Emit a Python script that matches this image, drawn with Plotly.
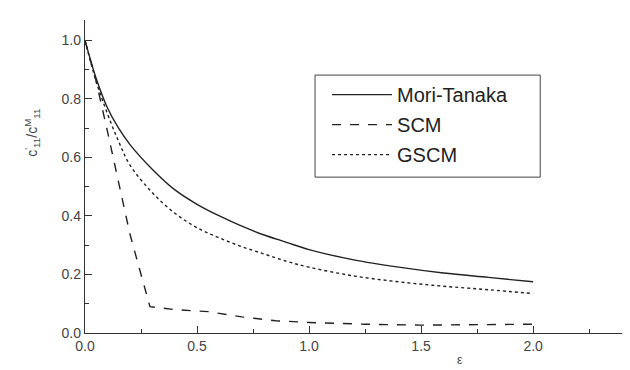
import plotly.graph_objects as go

# Data
mt_x = [0, 0.05, 0.1, 0.15, 0.2, 0.3, 0.4, 0.5, 0.6, 0.7, 0.8, 0.9, 1.0, 1.2, 1.4, 1.6, 1.8, 2.0]
mt_y = [1.0, 0.87, 0.77, 0.70, 0.645, 0.56, 0.49, 0.44, 0.40, 0.365, 0.335, 0.31, 0.285, 0.25, 0.225, 0.205, 0.19, 0.175]

scm_x = [0, 0.05, 0.1, 0.15, 0.2, 0.25, 0.29, 0.4, 0.55, 0.7, 0.85, 1.0, 1.25, 1.5, 1.75, 2.0]
scm_y = [1.0, 0.86, 0.69, 0.51, 0.34, 0.20, 0.09, 0.08, 0.073, 0.055, 0.042, 0.036, 0.03, 0.027, 0.028, 0.03]

gscm_x = [0, 0.05, 0.1, 0.15, 0.2, 0.3, 0.4, 0.5, 0.6, 0.7, 0.8, 0.9, 1.0, 1.2, 1.4, 1.6, 1.8, 2.0]
gscm_y = [1.0, 0.86, 0.75, 0.655, 0.575, 0.48, 0.41, 0.36, 0.325, 0.295, 0.27, 0.245, 0.225, 0.195, 0.175, 0.16, 0.148, 0.135]

series_names = ["Mori-Tanaka", "SCM", "GSCM"]
x_ticks = [0.0, 0.5, 1.0, 1.5, 2.0]
y_ticks = [0.0, 0.2, 0.4, 0.6, 0.8, 1.0]

FONT = "Arial, Liberation Sans, sans-serif"

fig = go.Figure()
fig.add_trace(go.Scatter(x=mt_x, y=mt_y, mode="lines", name=series_names[0], legendgroup="a",
                         line=dict(color="#222", width=1.4, dash="solid", shape="spline")))
fig.add_trace(go.Scatter(x=scm_x, y=scm_y, mode="lines", name=series_names[1], legendgroup="b",
                         line=dict(color="#222", width=1.4, dash="dash")))
fig.add_trace(go.Scatter(x=gscm_x, y=gscm_y, mode="lines", name=series_names[2], legendgroup="c",
                         line=dict(color="#222", width=1.4, dash="dot", shape="spline")))

fig.update_layout(
    width=622, height=362,
    margin=dict(l=77, r=5, t=12, b=37),
    paper_bgcolor="white", plot_bgcolor="white",
    font=dict(family=FONT, color="#333", size=14),
    showlegend=True,
    legend=dict(x=0.426, y=0.824, xanchor="left", yanchor="top",
                borderwidth=0, bgcolor="rgba(0,0,0,0)",
                font=dict(size=20, color="#222"),
                itemwidth=60, indentation=12, tracegroupgap=1),
    shapes=[dict(type="rect", xref="paper", yref="paper", x0=0.426, x1=0.843,
                 y0=0.498, y1=0.824, line=dict(color="#444", width=1),
                 fillcolor="white", layer="below")],
    xaxis=dict(range=[0, 2.41], tickvals=x_ticks, ticktext=[f"{v:.1f}" for v in x_ticks],
               ticks="inside", ticklen=7, tickcolor="#333", showline=True, linecolor="#333",
               linewidth=1.3, showgrid=False, zeroline=False,
               minor=dict(dtick=0.25, ticks="inside", ticklen=4, tickcolor="#333"),
               tickfont=dict(size=14, color="#444")),
    yaxis=dict(range=[0, 1.07], tickvals=y_ticks, ticktext=[f"{v:.1f}" for v in y_ticks],
               ticks="inside", ticklen=7, tickcolor="#333", showline=True, linecolor="#333",
               linewidth=1.3, showgrid=False, zeroline=False,
               minor=dict(dtick=0.1, ticks="inside", ticklen=4, tickcolor="#333"),
               tickfont=dict(size=14, color="#444")),
    annotations=[
        dict(text="c<sup>'</sup><sub>11</sub>/c<sup>M</sup><sub>11</sub>", textangle=-90,
             xref="paper", yref="paper", x=-0.098, y=0.64, xanchor="center", yanchor="middle",
             showarrow=False, font=dict(size=14, color="#444")),
        dict(text="ε", xref="paper", yref="paper", x=0.694, y=-0.086, xanchor="center",
             yanchor="middle", showarrow=False, font=dict(size=12, color="#444")),
    ],
)

fig.write_html("out.html")
